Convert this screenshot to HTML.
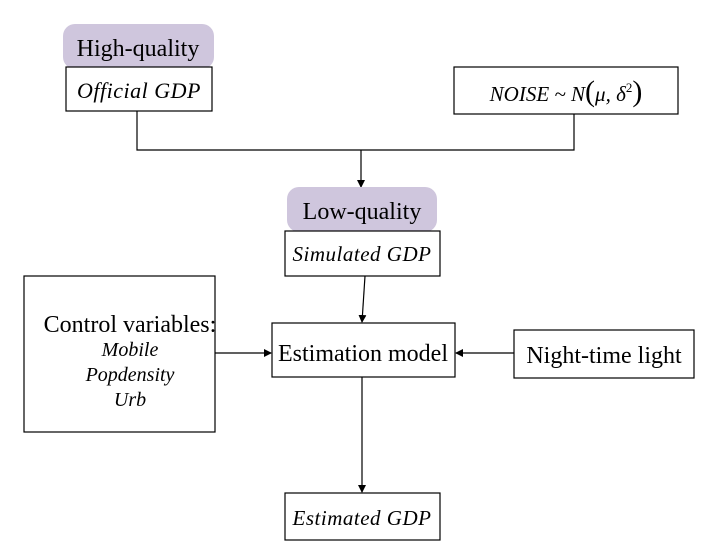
<!DOCTYPE html>
<html><head><meta charset="utf-8"><style>
body{margin:0;background:#fff;}
svg{display:block;font-family:"Liberation Serif",serif;}
</style></head><body>
<svg width="707" height="544" viewBox="0 0 707 544">
<defs><marker id="ah" markerWidth="8" markerHeight="8" refX="7" refY="4" orient="auto" markerUnits="userSpaceOnUse"><path d="M0,0 L8,4 L0,8 z" fill="#000"/></marker></defs>
<g stroke="#000" stroke-width="1.2" fill="none">
<path d="M137,111 V150 H574 V114"/>
<line x1="361" y1="150" x2="361" y2="187" marker-end="url(#ah)"/>
<line x1="365" y1="276" x2="362" y2="322" marker-end="url(#ah)"/>
<line x1="215" y1="353" x2="271" y2="353" marker-end="url(#ah)"/>
<line x1="514" y1="353" x2="456" y2="353" marker-end="url(#ah)"/>
<line x1="362" y1="377" x2="362" y2="492" marker-end="url(#ah)"/>
</g>
<rect x="63" y="24" width="151" height="45" rx="12" fill="#cfc6dd"/>
<text x="138" y="56" font-size="24" text-anchor="middle">High-quality</text>
<rect x="66" y="67" width="146" height="44" fill="#fff" stroke="#000" stroke-width="1.2"/>
<text x="139" y="98" font-size="22" font-style="italic" text-anchor="middle" letter-spacing="0.5">Official GDP</text>
<rect x="454" y="67" width="224" height="47" fill="#fff" stroke="#000" stroke-width="1.2"/>
<text x="566" y="101" font-size="21" font-style="italic" text-anchor="middle">NOISE ~ N<tspan font-style="normal" font-size="30">(</tspan>μ, δ<tspan font-size="13" dy="-9" font-style="normal">2</tspan><tspan font-style="normal" font-size="30" dy="9">)</tspan></text>
<rect x="287" y="187" width="150" height="45" rx="12" fill="#cfc6dd"/>
<text x="362" y="219" font-size="24" text-anchor="middle">Low-quality</text>
<rect x="285" y="231" width="155" height="45" fill="#fff" stroke="#000" stroke-width="1.2"/>
<text x="362" y="261" font-size="21" font-style="italic" text-anchor="middle" letter-spacing="0.5">Simulated GDP</text>
<rect x="24" y="276" width="191" height="156" fill="#fff" stroke="#000" stroke-width="1.2"/>
<text x="130" y="332" font-size="24" text-anchor="middle">Control variables:</text>
<text x="130" y="356" font-size="20" font-style="italic" text-anchor="middle">Mobile</text>
<text x="130" y="381" font-size="20" font-style="italic" text-anchor="middle">Popdensity</text>
<text x="130" y="406" font-size="20" font-style="italic" text-anchor="middle">Urb</text>
<rect x="272" y="323" width="183" height="54" fill="#fff" stroke="#000" stroke-width="1.2"/>
<text x="363" y="361" font-size="24" text-anchor="middle">Estimation model</text>
<rect x="514" y="330" width="180" height="48" fill="#fff" stroke="#000" stroke-width="1.2"/>
<text x="604" y="363" font-size="24" text-anchor="middle">Night-time light</text>
<rect x="285" y="493" width="155" height="47" fill="#fff" stroke="#000" stroke-width="1.2"/>
<text x="362" y="525" font-size="21" font-style="italic" text-anchor="middle" letter-spacing="0.5">Estimated GDP</text>
</svg>
</body></html>
